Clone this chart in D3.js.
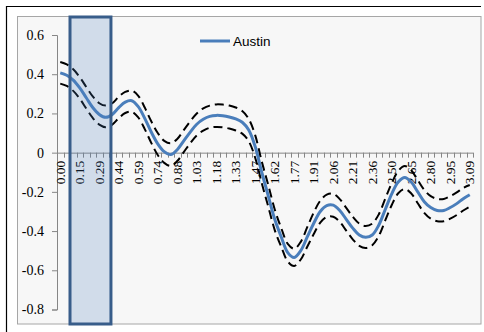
<!DOCTYPE html>
<html>
<head>
<meta charset="utf-8">
<script src="https://cdn.jsdelivr.net/npm/d3@7/dist/d3.min.js"></script>
<style>
  html, body { margin: 0; padding: 0; background: #ffffff; }
  svg { display: block; }
</style>
</head>
<body>
<div id="chart"></div>
<script>
// Category positions along the curve (64 samples from 0 to 63π/64)
const categories = d3.range(64).map(i => (i * Math.PI / 64).toFixed(2));

// Austin series: central estimate
const austin = [
  0.407, 0.395, 0.370, 0.330, 0.280, 0.230, 0.195, 0.180, 0.195, 0.230,
  0.258, 0.265, 0.235, 0.175, 0.105, 0.045, 0.005, -0.010, 0.015, 0.060,
  0.105, 0.145, 0.170, 0.185, 0.190, 0.188, 0.182, 0.172, 0.155, 0.115,
  0.030, -0.100, -0.220, -0.340, -0.430, -0.510, -0.535, -0.500, -0.430, -0.360,
  -0.300, -0.270, -0.268, -0.295, -0.340, -0.385, -0.420, -0.432, -0.420, -0.370,
  -0.290, -0.210, -0.150, -0.127, -0.150, -0.200, -0.250, -0.280, -0.295, -0.295,
  -0.280, -0.260, -0.235, -0.215
];

// Upper confidence bound
const upperBound = [
  0.462, 0.450, 0.425, 0.385, 0.335, 0.287, 0.252, 0.240, 0.252, 0.285,
  0.310, 0.316, 0.290, 0.230, 0.160, 0.100, 0.060, 0.048, 0.070, 0.115,
  0.160, 0.200, 0.226, 0.240, 0.246, 0.245, 0.240, 0.230, 0.212, 0.172,
  0.088, -0.045, -0.165, -0.290, -0.385, -0.465, -0.490, -0.455, -0.380, -0.305,
  -0.245, -0.214, -0.210, -0.237, -0.282, -0.327, -0.362, -0.374, -0.362, -0.315,
  -0.235, -0.155, -0.093, -0.068, -0.090, -0.140, -0.190, -0.222, -0.236, -0.236,
  -0.222, -0.203, -0.180, -0.165
];

// Lower confidence bound
const lowerBound = [
  0.352, 0.340, 0.315, 0.275, 0.225, 0.177, 0.143, 0.130, 0.143, 0.176,
  0.202, 0.208, 0.180, 0.120, 0.050, -0.012, -0.052, -0.068, -0.043, 0.003,
  0.048, 0.088, 0.112, 0.127, 0.131, 0.129, 0.123, 0.113, 0.097, 0.058,
  -0.027, -0.155, -0.275, -0.395, -0.480, -0.555, -0.578, -0.545, -0.480, -0.415,
  -0.357, -0.328, -0.327, -0.353, -0.398, -0.442, -0.475, -0.486, -0.472, -0.425,
  -0.346, -0.267, -0.207, -0.185, -0.208, -0.258, -0.307, -0.337, -0.350, -0.350,
  -0.337, -0.318, -0.295, -0.275
];

const yTicks = [0.6, 0.4, 0.2, 0, -0.2, -0.4, -0.6, -0.8];
const seriesName = "Austin";
// Highlighted window, in category-index units
const highlight = [2, 8.3];

const W = 484, H = 332;
const svg = d3.select("#chart").append("svg")
  .attr("width", W).attr("height", H);

// Outer frame (left and top edges visible)
svg.append("path")
  .attr("d", "M6.5,340 V6.5 H481")
  .attr("fill", "none").attr("stroke", "#000").attr("stroke-width", 1.2);

// Plot area background
svg.append("rect")
  .attr("x", 17.5).attr("y", 16.5).attr("width", 463.5).attr("height", 307.5)
  .attr("fill", "#f7f7f7").attr("stroke", "#a6a6a6").attr("stroke-width", 1);

const x0 = 57, x1 = 473;
const x = d3.scaleBand().domain(categories).range([x0, x1]).padding(0);
const xIdx = d3.scaleLinear().domain([0, categories.length]).range([x0, x1]);
const y = d3.scaleLinear().domain([-0.8, 0.6]).range([309.5, 35]);

// Y axis (plain hyphen for negatives)
const yAxis = d3.axisLeft(y).tickValues(yTicks).tickSize(5).tickPadding(8)
  .tickFormat(d => d === 0 ? "0" : d.toFixed(1));
const gy = svg.append("g").attr("transform", `translate(${x0},0)`).call(yAxis);
gy.select(".domain").attr("stroke", "#868686");
gy.selectAll(".tick line").attr("stroke", "#868686");
gy.selectAll(".tick text")
  .attr("font-family", "'Liberation Serif', 'Times New Roman', serif")
  .attr("font-size", 14).attr("fill", "#000");

// X axis at zero: tick marks at every category boundary
const gx = svg.append("g");
gx.append("line")
  .attr("x1", x0).attr("x2", x1).attr("y1", y(0) + 0.5).attr("y2", y(0) + 0.5)
  .attr("stroke", "#868686");
gx.selectAll("line.tk").data(d3.range(categories.length + 1)).join("line")
  .attr("class", "tk")
  .attr("x1", i => Math.round(xIdx(i)) + 0.5).attr("x2", i => Math.round(xIdx(i)) + 0.5)
  .attr("y1", y(0)).attr("y2", y(0) + 5)
  .attr("stroke", "#868686");
const labelCats = categories.filter((c, i) => i % 3 === 0);
gx.selectAll("text").data(labelCats).join("text")
  .attr("transform", c => `translate(${x(c) + x.bandwidth() / 2},${y(0) + 8}) rotate(-90)`)
  .attr("dy", "0.35em")
  .attr("text-anchor", "end")
  .attr("font-family", "'Liberation Serif', 'Times New Roman', serif")
  .attr("font-size", 13.5).attr("fill", "#000")
  .text(c => c);

// Series lines
const line = d3.line()
  .x((d, i) => x(categories[i]) + x.bandwidth() / 2)
  .y(d => y(d))
  .curve(d3.curveCatmullRom.alpha(0.5));

[upperBound, lowerBound].forEach(s => {
  svg.append("path").datum(s)
    .attr("d", line)
    .attr("fill", "none").attr("stroke", "#000")
    .attr("stroke-width", 2).attr("stroke-dasharray", "9,5");
});
svg.append("path").datum(austin)
  .attr("d", line)
  .attr("fill", "none").attr("stroke", "#4a7ebb")
  .attr("stroke-width", 3);

// Highlighted window
svg.append("rect")
  .attr("x", xIdx(highlight[0])).attr("y", 17)
  .attr("width", xIdx(highlight[1]) - xIdx(highlight[0])).attr("height", 307)
  .attr("fill", "#4f81bd").attr("fill-opacity", 0.22)
  .attr("stroke", "#385d8a").attr("stroke-width", 3);

// Legend
const lg = svg.append("g").attr("transform", "translate(200,41)");
lg.append("line").attr("x1", 0).attr("x2", 30).attr("y1", 0).attr("y2", 0)
  .attr("stroke", "#4a7ebb").attr("stroke-width", 3);
lg.append("text").attr("x", 33).attr("y", 0).attr("dy", "0.35em")
  .attr("font-family", "'Liberation Sans', Arial, sans-serif")
  .attr("font-size", 13.5).attr("fill", "#000")
  .text(seriesName);
</script>
</body>
</html>
